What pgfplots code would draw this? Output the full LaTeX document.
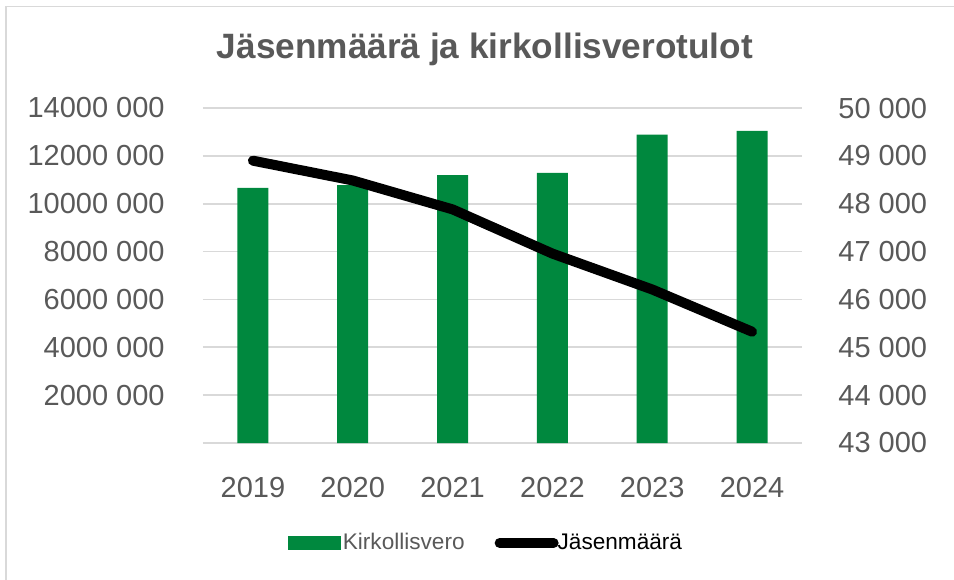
\documentclass[border=0pt]{standalone}
\usepackage{fontspec}
\setmainfont{Liberation Sans}
\usepackage{pgfplots}
\pgfplotsset{compat=1.18}
\definecolor{kgreen}{RGB}{0,136,62}
\definecolor{tgray}{RGB}{89,89,89}
\definecolor{ggray}{RGB}{217,217,217}
\begin{document}
\begin{tikzpicture}
\useasboundingbox (0,0) rectangle (477pt,289.5pt);
\draw[ggray, line width=0.9pt] (3pt,-2pt) -- (3pt,286.25pt) -- (480pt,286.25pt);
\node[anchor=base, font=\fontsize{17.6}{21}\selectfont\bfseries, text=tgray, inner sep=0pt] at (242.5pt,260pt) {Jäsenmäärä ja kirkollisverotulot};
\begin{axis}[
  at={(101.5pt,68pt)}, anchor=south west, scale only axis,
  width=299.5pt, height=167.5pt,
  xmin=-0.5, xmax=5.5, ymin=0, ymax=14000000,
  axis line style={draw=none},
  major tick length=0pt,
  scaled y ticks=false,
  ytick={0,2000000,4000000,6000000,8000000,10000000,12000000,14000000},
  yticklabels={,2000 000,4000 000,6000 000,8000 000,10000 000,12000 000,14000 000},
  xtick={0,1,2,3,4,5},
  xticklabels={2019,2020,2021,2022,2023,2024},
  ymajorgrids,
  grid style={ggray, line width=0.8pt},
  tick label style={font=\fontsize{14.5}{17}\selectfont, text=tgray, inner sep=0pt},
  yticklabel style={anchor=east, xshift=-19pt},
  xticklabel style={anchor=north, yshift=-17pt},
  /pgf/number format/assume math mode=true,
]
\addplot[ybar, bar width=15.5pt, fill=kgreen, draw=none] coordinates {
 (0,10660000) (1,10780000) (2,11190000) (3,11290000) (4,12890000) (5,13040000)};
\end{axis}
\begin{axis}[
  at={(101.5pt,68pt)}, anchor=south west, scale only axis,
  width=299.5pt, height=167.5pt,
  xmin=-0.5, xmax=5.5, ymin=43000, ymax=50000,
  axis y line*=right,
  axis x line=none,
  axis line style={draw=none},
  major tick length=0pt,
  scaled y ticks=false,
  ytick={43000,44000,45000,46000,47000,48000,49000,50000},
  yticklabels={43 000,44 000,45 000,46 000,47 000,48 000,49 000,50 000},
  xtick=\empty,
  tick label style={font=\fontsize{14.5}{17}\selectfont, text=tgray, inner sep=0pt},
  yticklabel style={anchor=west, xshift=18pt},
  /pgf/number format/assume math mode=true,
  legend style={at={(0.4725,-0.2985)}, anchor=center, draw=none, fill=none,
    font=\fontsize{11.3}{13}\selectfont, legend columns=2,
    /tikz/every even column/.append style={column sep=14pt},
    nodes={inner sep=1pt}},
]
\addlegendimage{legend image code/.code={\fill[kgreen] (0pt,-3.25pt) rectangle (26pt,3.25pt);}}
\addlegendentry{\textcolor{tgray}{Kirkollisvero}}
\addplot[black, line width=5pt, line cap=round, line join=round,
  legend image code/.code={\draw[black, line width=5pt, line cap=round] (2.5pt,0pt) -- (29.5pt,0pt);}]
 coordinates {(0,48900) (1,48486) (2,47882) (3,46958) (4,46208) (5,45326)};
\addlegendentry{\hspace{-1.5pt}Jäsenmäärä}
\end{axis}
\end{tikzpicture}
\end{document}
